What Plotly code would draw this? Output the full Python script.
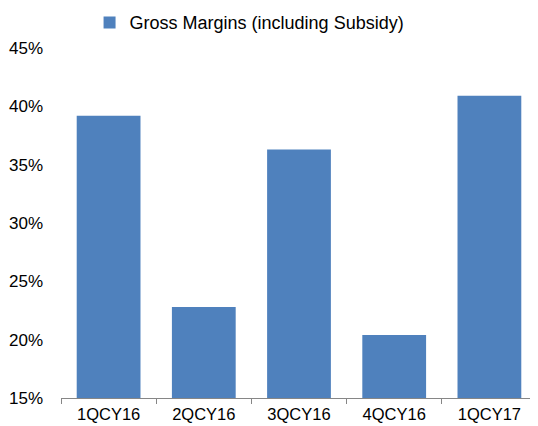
import plotly.graph_objects as go

categories = ["1QCY16", "2QCY16", "3QCY16", "4QCY16", "1QCY17"]
gross_margins = [0.392, 0.228, 0.363, 0.204, 0.409]
series_name = "Gross Margins (including Subsidy)"
y_ticks = [0.15, 0.20, 0.25, 0.30, 0.35, 0.40, 0.45]

FONT = "Liberation Sans, Arial, sans-serif"

fig = go.Figure()
fig.add_trace(go.Bar(
    x=categories,
    y=gross_margins,
    name=series_name,
    marker=dict(color="#4F81BD", line=dict(width=0)),
    showlegend=True,
))

# The page body has an 8px default margin, so the figure is sized to fill the rest.
fig.update_layout(
    width=530,
    height=418,
    margin=dict(l=53, r=1, t=40, b=28, autoexpand=False),
    paper_bgcolor="white",
    plot_bgcolor="white",
    font=dict(family=FONT, size=17, color="#000000"),
    bargap=0.33,
    showlegend=True,
    legend=dict(
        orientation="h",
        x=0.06, xref="paper", xanchor="left",
        y=1.125, yref="paper", yanchor="top",
        font=dict(family=FONT, size=18, color="#000000"),
        bgcolor="rgba(0,0,0,0)",
        itemwidth=30,
    ),
)

fig.update_yaxes(
    range=[0.15, 0.45],
    tickvals=y_ticks,
    tickformat=".0%",
    showgrid=False,
    showline=False,
    zeroline=False,
    ticks="",
    ticklabelstandoff=17,
    automargin=False,
    tickfont=dict(family=FONT, size=17, color="#000000"),
)

fig.update_xaxes(
    type="category",
    showgrid=False,
    showline=True,
    linecolor="#868686",
    linewidth=1,
    ticks="outside",
    tickson="boundaries",
    ticklen=5,
    tickcolor="#868686",
    automargin=False,
    tickfont=dict(family=FONT, size=16.5, color="#000000"),
    ticklabelstandoff=1,
)

fig.write_html("out.html")
